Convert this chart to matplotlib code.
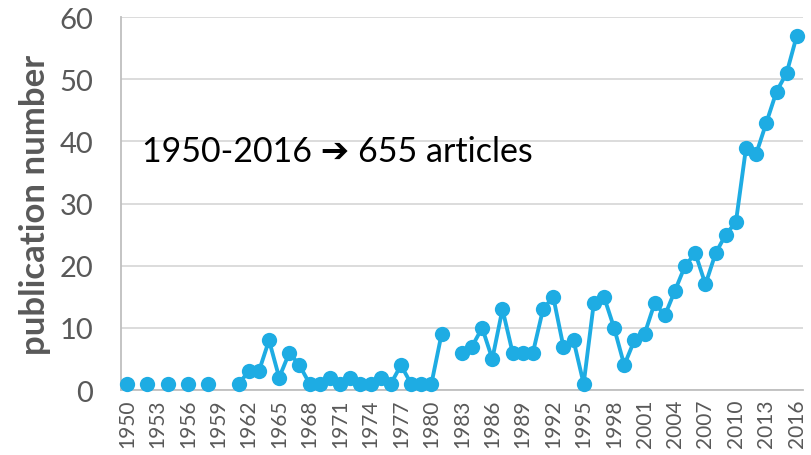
import numpy as np
import matplotlib
matplotlib.use("Agg")
import matplotlib.pyplot as plt

# publications per year; None = no entry for that year
years = list(range(1950, 2017))
counts = [
    1, None, 1, None, 1, None, 1, None, 1, None,  # 1950-1959
    None, 1, 3, 3, 8, 2, 6, 4, 1, 1,               # 1960-1969
    2, 1, 2, 1, 1, 2, 1, 4, 1, 1,                  # 1970-1979
    1, 9, None, 6, 7, 10, 5, 13, 6, 6,             # 1980-1989
    6, 13, 15, 7, 8, 1, 14, 15, 10, 4,             # 1990-1999
    8, 9, 14, 12, 16, 20, 22, 17, 22, 25,          # 2000-2009
    27, 39, 38, 43, 48, 51, 57,                    # 2010-2016
]
tick_years = list(range(1950, 2017, 3))
y_ticks = [0, 10, 20, 30, 40, 50, 60]
note = "1950-2016 \u2794 655 articles"

plt.rcParams["font.family"] = ["Lato", "DejaVu Sans"]

fig = plt.figure(figsize=(8.11, 4.56), dpi=100)
ax = fig.add_axes([0.149, 0.1425, 0.841, 0.818])

vals = np.array([np.nan if c is None else c for c in counts], dtype=float)
ax.plot(years, vals, color="#1EACE3", linewidth=2.8, marker="o",
        markersize=11, markeredgewidth=0, zorder=3, clip_on=False)

ax.set_xlim(1949.4, 2016.6)
ax.set_ylim(0, 60)
ax.set_yticks(y_ticks)
ax.set_xticks(tick_years)
ax.set_xticklabels([str(y) for y in tick_years], rotation=90)
ax.tick_params(axis="y", labelsize=21, labelcolor="#595959", length=0, pad=20)
ax.tick_params(axis="x", labelsize=15, labelcolor="#595959", length=0, pad=6)

ax.grid(axis="y", color="#D9D9D9", linewidth=1.3, zorder=0)
ax.set_axisbelow(True)
for side in ["top", "right"]:
    ax.spines[side].set_visible(False)
for side in ["left", "bottom"]:
    ax.spines[side].set_color("#BFBFBF")
    ax.spines[side].set_linewidth(1.3)

ax.set_ylabel("publication number", fontsize=25, fontweight="bold",
              color="#595959", labelpad=6)

ax.text(1951.5, 38.5, note, fontsize=24.5, color="black", va="center",
        ha="left")

fig.savefig("out.png", dpi=100)
